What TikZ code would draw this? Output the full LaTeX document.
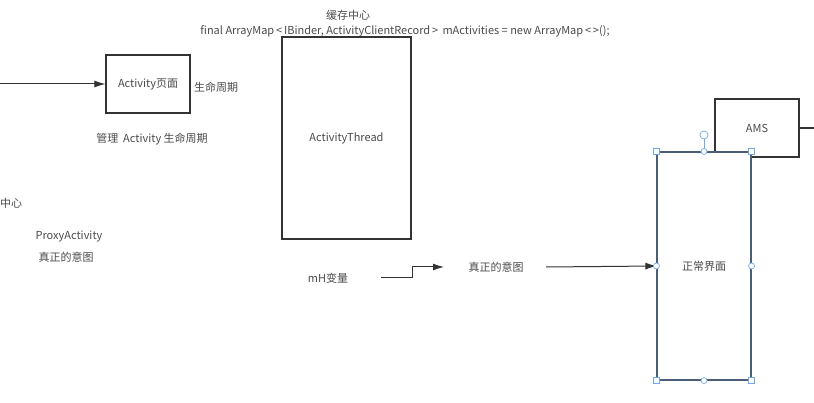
\documentclass[tikz,border=0pt]{standalone}
\usepackage{fontspec}
\setmainfont{Noto Sans CJK SC}
\usetikzlibrary{arrows.meta}
\definecolor{txtgray}{HTML}{4A4A4A}
\definecolor{boxline}{HTML}{333333}
\definecolor{selline}{HTML}{4B5E78}
\definecolor{handle}{HTML}{6FA8EC}
\tikzset{
  lbl/.style={text=txtgray,font=\fontsize{11}{13}\selectfont,inner sep=1pt},
  pagebox/.style={draw=boxline,line width=1.1pt,fill=white,lbl},
  arr/.style={draw=boxline,line width=1pt,-{Latex[length=11pt,width=7pt]}},
  hsq/.style={draw=handle,fill=white,line width=.7pt},
}
\begin{document}
\begin{tikzpicture}[x=1pt,y=-1pt]
\useasboundingbox (0,0) rectangle (814,403);

% Activity
\node[pagebox,minimum width=84pt,minimum height=58pt] (act) at (148,84) {Activity页面};
\node[lbl] (life) at (216,87) {生命周期};
\node[lbl] (manage) at (152,139) {管理\ \ Activity 生命周期};
\coordinate (lin) at (0,84);
\draw[arr] (lin) -- (act.west);

% ActivityThread
\node[lbl] (cache) at (348,15) {缓存中心};
\node[lbl] (amap) at (405,31) {final ArrayMap\,<\,IBinder, ActivityClientRecord\,>\, mActivities = new ArrayMap\,<\,>();};
\node[pagebox,minimum width=129pt,minimum height=202pt] (at) at (346.5,138) {ActivityThread};

% ProxyActivity
\node[lbl,anchor=west] (center) at (-1,203) {中心};
\node[lbl] (proxy) at (69,237) {ProxyActivity};
\node[lbl] (intent1) at (66,257) {真正的意图};

% mH
\node[lbl] (mh) at (328,278) {mH变量};
\node[lbl] (intent2) at (496,267) {真正的意图};
\coordinate (mhout) at (381,278);
\coordinate (intin) at (444,267);
\coordinate (intout) at (546,267);
\draw[arr] (mhout) -- ++(31,0) |- (intin);

% AMS / normal page
\node[pagebox,minimum width=84pt,minimum height=58pt] (ams) at (757,128) {AMS};
\coordinate (amsout) at (814,128);
\draw[draw=boxline,line width=1.1pt] (ams.east) -- (amsout);
\node[pagebox,draw=selline,minimum width=94pt,minimum height=228pt] (normal) at (704,266) {正常界面};
\draw[arr] (intout) -- (normal.west);

% handles
\coordinate (rot) at (704,135);
\draw[handle,line width=.7pt] (normal.north) -- (rot);
\foreach \c in {north west,north east,south west,south east}
  \filldraw[hsq] ([shift={(-3,-3)}]normal.\c) rectangle ++(6,6);
\foreach \c in {north,south,west,east}
  \filldraw[hsq] (normal.\c) circle (3);
\filldraw[hsq] (rot) circle (4);
\end{tikzpicture}
\end{document}
